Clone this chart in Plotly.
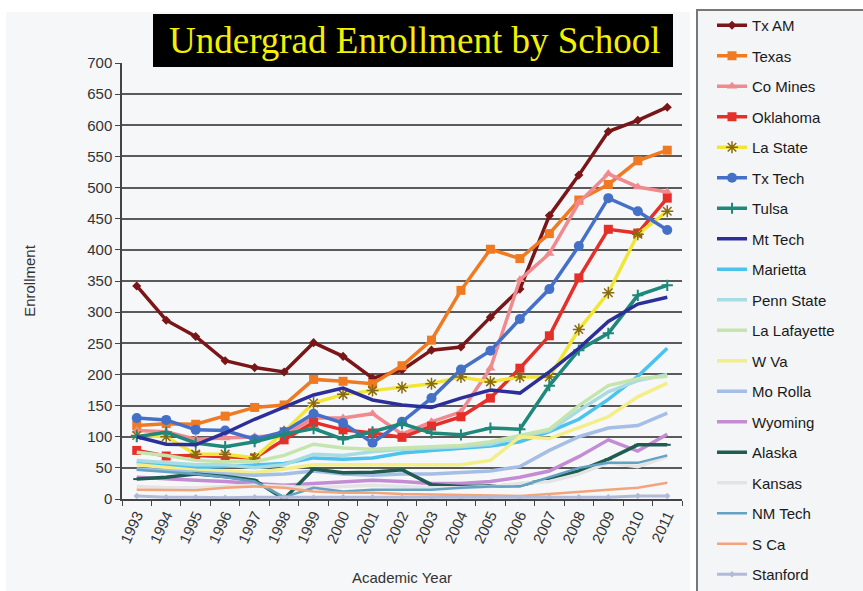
import plotly.graph_objects as go

years = [str(y) for y in range(1993, 2012)]

tx_am      = [342, 287, 261, 222, 211, 204, 251, 229, 194, 207, 239, 244, 292, 337, 455, 520, 590, 608, 629]
texas      = [118, 121, 120, 133, 147, 151, 192, 189, 185, 214, 255, 335, 401, 386, 426, 480, 505, 543, 560]
co_mines   = [110, 108, 96, 98, 100, 102, 130, 130, 137, 104, 124, 140, 210, 352, 394, 476, 522, 501, 493]
oklahoma   = [78, 69, 70, 68, 66, 95, 123, 111, 106, 99, 117, 132, 162, 210, 262, 355, 433, 427, 483]
la_state   = [102, 100, 72, 72, 66, 108, 154, 168, 174, 179, 185, 196, 188, 196, 196, 272, 331, 425, 462]
tx_tech    = [130, 127, 111, 110, 96, 108, 137, 122, 90, 124, 162, 208, 238, 289, 337, 406, 483, 462, 432]
tulsa      = [100, 107, 90, 84, 92, 104, 113, 96, 108, 121, 106, 103, 114, 112, 182, 239, 266, 327, 343]
mt_tech    = [100, 88, 87, 106, 128, 148, 167, 178, 159, 151, 147, 162, 175, 170, 204, 242, 285, 313, 324]
marietta   = [58, 55, 50, 52, 55, 57, 66, 64, 66, 74, 78, 82, 85, 92, 108, 128, 160, 197, 242]
penn_state = [62, 58, 55, 55, 50, 55, 72, 70, 76, 80, 82, 84, 88, 100, 110, 142, 172, 190, 200]
la_lafay   = [75, 70, 62, 60, 60, 70, 88, 82, 80, 82, 84, 86, 92, 102, 112, 150, 182, 193, 197]
w_va       = [55, 50, 46, 45, 42, 48, 55, 55, 55, 56, 55, 55, 62, 100, 97, 114, 132, 164, 186]
mo_rolla   = [48, 45, 42, 40, 38, 40, 45, 40, 38, 40, 40, 42, 45, 52, 78, 100, 114, 118, 138]
wyoming    = [35, 32, 30, 28, 25, 22, 25, 28, 30, 28, 25, 25, 28, 35, 45, 68, 95, 77, 104]
alaska     = [32, 35, 40, 36, 30, 0, 48, 42, 43, 47, 23, 20, 21, 22, 32, 45, 64, 87, 87]
kansas     = [20, 18, 18, 20, 22, 20, 18, 20, 22, 20, 18, 18, 20, 25, 28, 40, 58, 52, 68]
nm_tech    = [47, 44, 40, 35, 28, 3, 18, 12, 15, 15, 15, 18, 20, 20, 35, 50, 58, 58, 70]
s_ca       = [15, 15, 14, 18, 20, 18, 12, 10, 10, 8, 7, 6, 5, 5, 8, 12, 15, 18, 26]
stanford   = [5, 3, 3, 2, 3, 3, 2, 3, 3, 2, 2, 2, 2, 2, 3, 3, 3, 5, 5]

series = [
    ("Tx AM", tx_am, "#7A1518", "diamond", 7, 3.5),
    ("Texas", texas, "#F07A22", "square", 9, 3.5),
    ("Co Mines", co_mines, "#F08A8E", "triangle-up", 9, 3.5),
    ("Oklahoma", oklahoma, "#E5302A", "square", 9, 3.5),
    ("La State", la_state, "#F2E634", "asterisk-open", 10, 3.5),
    ("Tx Tech", tx_tech, "#4470C8", "circle", 10, 3.5),
    ("Tulsa", tulsa, "#1E887A", "cross-thin-open", 8, 3.5),
    ("Mt Tech", mt_tech, "#2C2E9A", None, 0, 3.5),
    ("Marietta", marietta, "#4CC3EE", None, 0, 3.5),
    ("Penn State", penn_state, "#A6DCE2", None, 0, 3.5),
    ("La Lafayette", la_lafay, "#C6E5AE", None, 0, 3.5),
    ("W Va", w_va, "#F3EE86", None, 0, 3.5),
    ("Mo Rolla", mo_rolla, "#A5BEE6", None, 0, 3.5),
    ("Wyoming", wyoming, "#C48CD2", None, 0, 3.5),
    ("Alaska", alaska, "#1F5D52", "line-ew", 5, 3.5),
    ("Kansas", kansas, "#E4E4E4", None, 0, 3.5),
    ("NM Tech", nm_tech, "#64A2C4", None, 0, 2.5),
    ("S Ca", s_ca, "#F2A57A", None, 0, 2.5),
    ("Stanford", stanford, "#B2BADA", "diamond", 5, 3),
]

fig = go.Figure()
for name, vals, color, sym, msize, lw in series:
    kw = {}
    if sym:
        mode = "lines+markers"
        if sym == "asterisk-open":
            kw["marker"] = dict(symbol=sym, size=msize, color="#8A6A10",
                                line=dict(color="#8A6A10", width=1.5))
        elif sym in ("cross-thin-open", "line-ew"):
            kw["marker"] = dict(symbol=sym, size=msize, color=color,
                                line=dict(color=color, width=2))
        else:
            kw["marker"] = dict(symbol=sym, size=msize, color=color)
    else:
        mode = "lines"
    fig.add_trace(go.Scatter(x=years, y=vals, name=name, mode=mode,
                             legendgroup=name,
                             line=dict(color=color, width=lw), **kw))

W, H = 863, 591
L, R, T, B = 122, 682, 63, 499

def px(x):
    return (x - L) / (R - L)

def py(y):
    return (B - y) / (B - T)

shapes = [
    dict(type="rect", xref="paper", yref="paper", x0=px(6), x1=px(690), y0=py(595), y1=py(12),
         fillcolor="#F5F7F9", line=dict(width=0), layer="below"),
    dict(type="rect", xref="paper", yref="paper", x0=px(697), x1=px(868), y0=py(596), y1=py(10),
         fillcolor="#F3F5F7", line=dict(color="#777777", width=2), layer="below"),
    dict(type="rect", xref="paper", yref="paper", x0=px(153), x1=px(673), y0=py(67), y1=py(14),
         fillcolor="#000000", line=dict(width=0), layer="above"),
]

fig.update_layout(
    width=W, height=H,
    margin=dict(l=L, r=W - R, t=T, b=H - B),
    paper_bgcolor="#FFFFFF",
    plot_bgcolor="#C2C2C2",
    font=dict(family="Liberation Sans, Arial, sans-serif", size=14, color="#333333"),
    shapes=shapes,
    annotations=[dict(text="Undergrad Enrollment by School", xref="paper", yref="paper",
                      x=px(415), y=py(40), xanchor="center", yanchor="middle", showarrow=False,
                      font=dict(family="Liberation Serif, Times New Roman, serif", size=37, color="#F5F000"))],
    legend=dict(x=px(712), y=py(13), xanchor="left", yanchor="top", maxheight=1000,
                bgcolor="rgba(0,0,0,0)", tracegroupgap=8, itemwidth=30,
                font=dict(family="Liberation Sans, Arial, sans-serif", size=15, color="#1A1A1A")),
    showlegend=True,
)

fig.update_xaxes(type="category", tickson="boundaries", ticks="outside", ticklen=5,
                 tickcolor="#444444", showline=True, linecolor="#444444", linewidth=1.5,
                 showgrid=False, tickangle=-65, range=[-0.5, 18.5], automargin=False,
                 tickfont=dict(size=15, color="#333333"),
                 title=dict(text="Academic Year", font=dict(size=15, color="#333333"), standoff=28))
fig.update_yaxes(range=[0, 700], dtick=50, ticks="outside", ticklen=5, tickcolor="#444444",
                 showline=True, linecolor="#444444", linewidth=1.5, automargin=False,
                 showgrid=True, gridcolor="#5A5A5A", gridwidth=2, zeroline=False,
                 tickfont=dict(size=15, color="#333333"),
                 title=dict(text="Enrollment", font=dict(size=15, color="#333333"), standoff=48))

fig.write_html("out.html", config={"displayModeBar": False},
               post_script="document.body.style.margin='0px';")
